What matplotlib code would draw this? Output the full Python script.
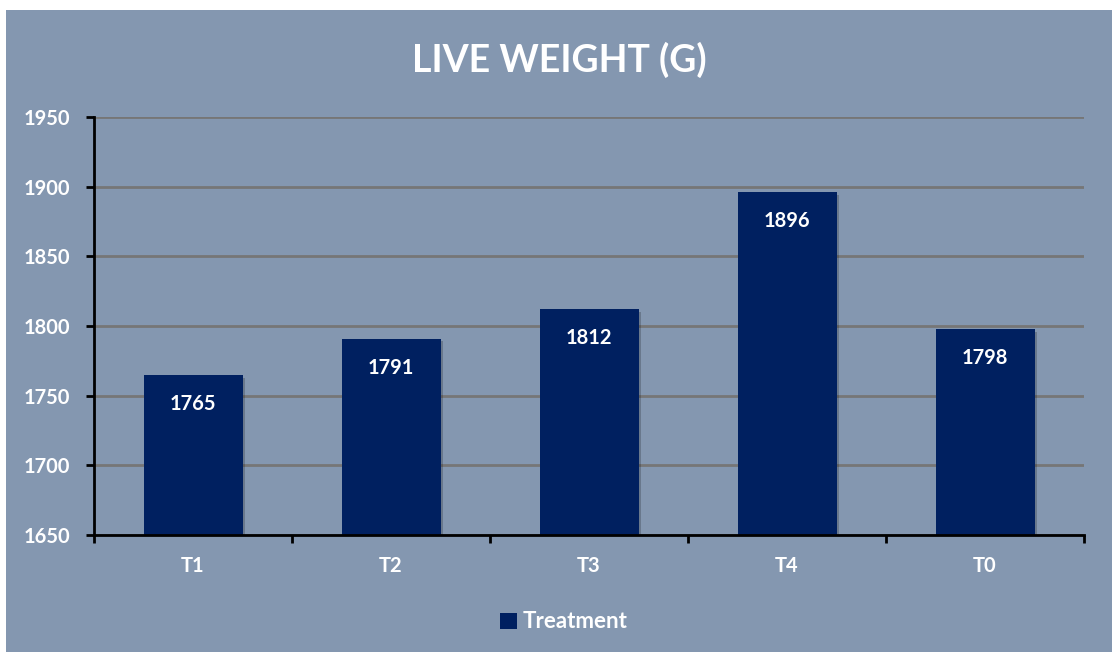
import matplotlib
matplotlib.use("Agg")
import matplotlib.pyplot as plt
import matplotlib.patheffects as pe
from matplotlib.patches import Rectangle

# chart data
treatments = ["T1", "T2", "T3", "T4", "T0"]
live_weight = [1765, 1791, 1812, 1896, 1798]
y_ticks = [1650, 1700, 1750, 1800, 1850, 1900, 1950]

bg = "#8497B0"
bar_color = "#002060"
font = ["Lato", "DejaVu Sans"]

plt.rcParams["font.family"] = font
plt.rcParams["font.weight"] = "bold"

fig = plt.figure(figsize=(11.12, 6.52), dpi=100, facecolor="white")
# chart panel, leaving a thin white margin on the top and left
fig.patches.append(Rectangle((6 / 1112, 0), 1 - 6 / 1112, 1 - 10 / 652,
                             transform=fig.transFigure, facecolor=bg,
                             edgecolor="none", zorder=-10))

ax = fig.add_axes([94 / 1112, 1 - 535 / 652, 990 / 1112, 418 / 652])
ax.set_facecolor("none")

x = range(len(treatments))
bars = ax.bar(x, live_weight, width=0.5, color=bar_color, zorder=3)
for b in bars:
    b.set_path_effects([pe.SimplePatchShadow(offset=(2, -2), shadow_rgbFace="black",
                                             alpha=0.2), pe.Normal()])

for xi, v in zip(x, live_weight):
    ax.annotate(str(v), (xi, v), xytext=(0, -21), textcoords="offset points",
                ha="center", va="center", color="white", fontsize=14.5,
                fontweight="bold", zorder=4)

ax.set_ylim(1650, 1950)
ax.set_xlim(-0.5, len(treatments) - 0.5)
ax.set_yticks(y_ticks)
ax.yaxis.grid(True, color="#767676", linewidth=2, zorder=1)
ax.set_axisbelow(True)

# category labels between boundary ticks
ax.set_xticks([i - 0.5 for i in range(len(treatments) + 1)])
ax.set_xticklabels([])
ax.set_xticks(list(x), minor=True)
ax.set_xticklabels(treatments, minor=True)
ax.tick_params(axis="x", which="major", direction="out", length=6, width=2, color="black")
ax.tick_params(axis="x", which="minor", length=0, pad=15, labelsize=14.5, labelcolor="white")
ax.tick_params(axis="y", direction="out", length=6, width=2, color="black",
               labelsize=14.5, labelcolor="white", pad=11)
for lbl in ax.get_xticklabels(minor=True) + ax.get_yticklabels():
    lbl.set_fontweight("bold")

for side in ["top", "right"]:
    ax.spines[side].set_visible(False)
ax.spines["left"].set_linewidth(2)
ax.spines["bottom"].set_linewidth(2)
ax.spines["left"].set_zorder(5)
ax.spines["bottom"].set_zorder(5)

fig.text(559 / 1112, 1 - 60 / 652, "LIVE WEIGHT (G)", ha="center", va="center",
         color="white", fontsize=27, fontweight="bold")

handle = Rectangle((0, 0), 1, 1, facecolor=bar_color)
leg = fig.legend([handle], ["Treatment"], loc="center", bbox_to_anchor=(564 / 1112, 1 - 622 / 652),
                 frameon=False, handlelength=0.75, handleheight=0.75, handletextpad=0.25,
                 prop={"family": font, "weight": "bold", "size": 16})
for t in leg.get_texts():
    t.set_color("white")

fig.savefig("out.png", dpi=100, facecolor="white")
